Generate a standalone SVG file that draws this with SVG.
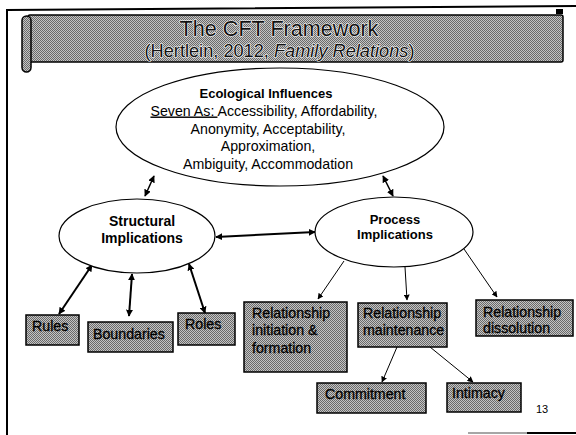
<svg xmlns="http://www.w3.org/2000/svg" width="576" height="435" viewBox="0 0 576 435">
<defs>
<pattern id="dither" width="2" height="2" patternUnits="userSpaceOnUse">
<rect width="2" height="2" fill="#c4c4c4"/>
<rect width="1" height="1" fill="#6a6a6a"/>
<rect x="1" y="1" width="1" height="1" fill="#6a6a6a"/>
</pattern>
<marker id="ah" viewBox="0 0 10 10" refX="9" refY="5" markerWidth="7" markerHeight="7" markerUnits="userSpaceOnUse" orient="auto-start-reverse">
<path d="M0,0 L10,5 L0,10 z" fill="#000"/>
</marker>
<marker id="ahs" viewBox="0 0 10 10" refX="9" refY="5" markerWidth="6" markerHeight="6" markerUnits="userSpaceOnUse" orient="auto-start-reverse">
<path d="M0,0 L10,5 L0,10 z" fill="#000"/>
</marker>
</defs>
<style>
text{font-family:"Liberation Sans",Arial,sans-serif;fill:#000}
.title{fill:#111;stroke:#fff;stroke-width:1.2px;paint-order:stroke;stroke-linejoin:round}
.oval{fill:#fff;stroke:#000;stroke-width:1.2}
.box{fill:url(#dither);stroke:#000;stroke-width:1.5}
.bt{font-size:14.2px;fill:#000;stroke:#000;stroke-width:0.3px}
.ell{font-size:14.2px;text-anchor:middle}
.hd{font-weight:bold;text-anchor:middle}
.thick{stroke:#000;stroke-width:2;fill:none}
.mid{stroke:#000;stroke-width:1.5;fill:none}
.thin{stroke:#000;stroke-width:1;fill:none}
</style>
<rect width="576" height="435" fill="#fff"/>
<g id="frame">
<path d="M7,435 L7,10 L576,6" fill="none" stroke="#000" stroke-width="2"/>
<line x1="468" y1="433" x2="576" y2="433" stroke="#888" stroke-width="1.5"/>
<line x1="527" y1="433" x2="576" y2="433" stroke="#000" stroke-width="2"/>
</g>
<g id="banner">
<rect x="28" y="15" width="535" height="47" rx="2" fill="url(#dither)" stroke="#000" stroke-width="1.5"/>
<rect x="22" y="16" width="9" height="56" rx="4.5" fill="url(#dither)" stroke="#000" stroke-width="1.5"/>
<rect x="556" y="9" width="7" height="5" fill="#000"/>
<text class="title" x="279" y="36" font-size="21.6" text-anchor="middle">The CFT Framework</text>
<text class="title" x="279.5" y="57.2" font-size="18.2" text-anchor="middle">(Hertlein, 2012, <tspan font-style="italic">Family Relations</tspan>)</text>
</g>
<g id="connectors">
<line class="mid" x1="145" y1="196" x2="154" y2="176" marker-start="url(#ah)" marker-end="url(#ah)"/>
<line class="mid" x1="393" y1="196" x2="383" y2="176" marker-start="url(#ah)" marker-end="url(#ah)"/>
<line class="thick" x1="216" y1="237" x2="315" y2="232" marker-start="url(#ah)" marker-end="url(#ah)"/>
<line class="thick" x1="92" y1="265" x2="59" y2="314" marker-start="url(#ah)" marker-end="url(#ah)"/>
<line class="thick" x1="132" y1="274" x2="129" y2="316" marker-start="url(#ah)" marker-end="url(#ah)"/>
<line class="thick" x1="189" y1="264" x2="205" y2="313" marker-start="url(#ah)" marker-end="url(#ah)"/>
<line class="thin" x1="344" y1="261" x2="318" y2="299" marker-end="url(#ahs)"/>
<line class="thin" x1="405" y1="267" x2="407" y2="300" marker-end="url(#ahs)"/>
<line class="thin" x1="464" y1="249" x2="497" y2="297" marker-end="url(#ahs)"/>
<line class="thin" x1="397" y1="347" x2="382" y2="382" marker-end="url(#ahs)"/>
<line class="thin" x1="430" y1="347" x2="473" y2="382" marker-end="url(#ahs)"/>
</g>
<g id="ecological">
<ellipse class="oval" cx="280" cy="127" rx="164" ry="59"/>
<text class="hd" x="266" y="98" font-size="13">Ecological Influences</text>
<text class="ell" x="264" y="115.5"><tspan text-decoration="underline">Seven As: </tspan>Accessibility, Affordability,</text>
<text class="ell" x="268" y="133.5">Anonymity, Acceptability,</text>
<text class="ell" x="268" y="151">Approximation,</text>
<text class="ell" x="268" y="168.5">Ambiguity, Accommodation</text>
</g>
<g id="structural">
<ellipse class="oval" cx="137" cy="236" rx="78" ry="37"/>
<text class="hd" x="142" y="226" font-size="14">Structural</text>
<text class="hd" x="142" y="243" font-size="14">Implications</text>
</g>
<g id="process">
<ellipse class="oval" cx="394" cy="232" rx="79" ry="35"/>
<text class="hd" x="395" y="224" font-size="13">Process</text>
<text class="hd" x="395" y="239" font-size="13">Implications</text>
</g>
<g id="rules">
<rect class="box" x="26" y="315" width="53" height="30"/>
<text class="bt" x="32" y="331">Rules</text>
</g>
<g id="boundaries">
<rect class="box" x="88" y="322" width="85" height="30"/>
<text class="bt" x="93" y="339">Boundaries</text>
</g>
<g id="roles">
<rect class="box" x="178" y="313" width="57" height="32"/>
<text class="bt" x="185" y="329">Roles</text>
</g>
<g id="initiation">
<rect class="box" x="244" y="302" width="103" height="70"/>
<text class="bt" x="252" y="318">Relationship</text>
<text class="bt" x="252" y="335">initiation &amp;</text>
<text class="bt" x="252" y="353">formation</text>
</g>
<g id="maintenance">
<rect class="box" x="358" y="303" width="89" height="44"/>
<text class="bt" x="363" y="318">Relationship</text>
<text class="bt" x="363" y="335">maintenance</text>
</g>
<g id="dissolution">
<rect class="box" x="476" y="300" width="97" height="36"/>
<text class="bt" x="483" y="317">Relationship</text>
<text class="bt" x="483" y="333">dissolution</text>
</g>
<g id="commitment">
<rect class="box" x="317" y="383" width="109" height="30"/>
<text class="bt" x="325" y="399">Commitment</text>
</g>
<g id="intimacy">
<rect class="box" x="447" y="383" width="74" height="29"/>
<text class="bt" x="452" y="398">Intimacy</text>
</g>
<g id="page">
<text x="536" y="413" font-size="11">13</text>
</g>
</svg>
